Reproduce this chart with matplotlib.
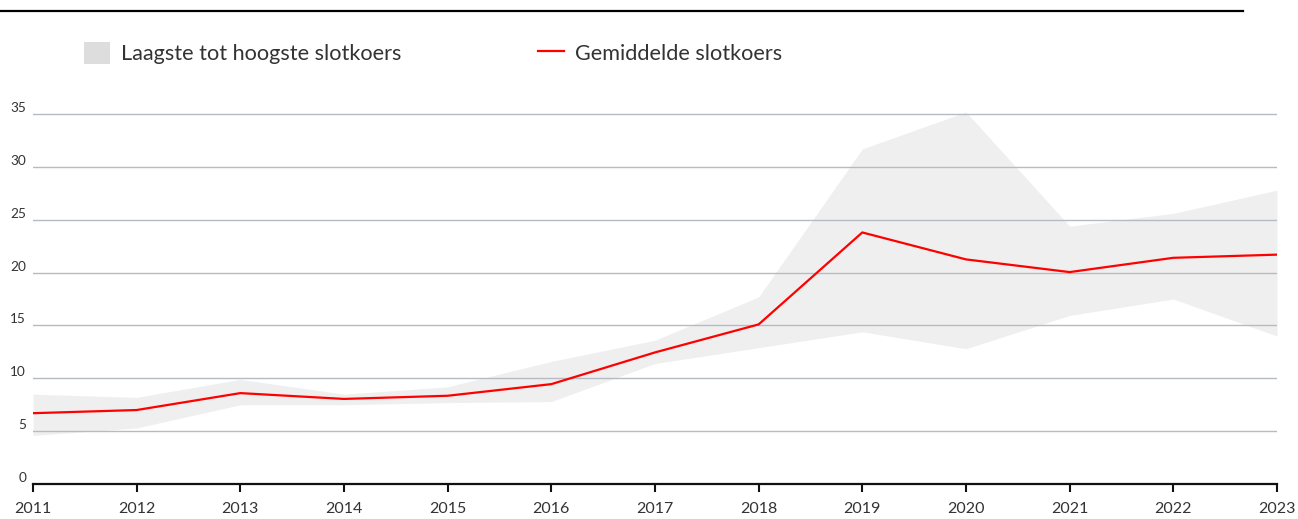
import matplotlib.pyplot as plt
from matplotlib.patches import Patch
from matplotlib.lines import Line2D

years = [2011, 2012, 2013, 2014, 2015, 2016, 2017, 2018, 2019, 2020, 2021, 2022, 2023]
hoogste = [8.5, 8.2, 9.9, 8.5, 9.2, 11.6, 13.6, 17.7, 31.7, 35.2, 24.4, 25.6, 27.8]
laagste = [4.6, 5.3, 7.5, 7.5, 7.7, 7.8, 11.4, 12.9, 14.4, 12.8, 15.95, 17.5, 14.0]
gemiddeld = [6.7, 7.0, 8.6, 8.05, 8.35, 9.45, 12.45, 15.1, 23.8, 21.25, 20.05, 21.4, 21.7]
yticks = [0, 5, 10, 15, 20, 25, 30, 35]

plt.rcParams['font.family'] = ['Lato', 'DejaVu Sans']
textcol = '#333333'

fig = plt.figure(figsize=(12.98, 5.19), dpi=100)
ax = fig.add_axes([0.0254, 0.0674, 0.9584, 0.7332])

ax.fill_between(years, laagste, hoogste, color='#efefef', linewidth=0, zorder=1)
for y in yticks[1:]:
    ax.axhline(y, color='#b4bcc2', linewidth=1, zorder=2)
ax.plot(years, gemiddeld, color='#ff0000', linewidth=1.6, zorder=3)

ax.set_xlim(years[0], years[-1])
ax.set_ylim(0, 36)
ax.set_xticks(years)
ax.set_xticklabels([str(y) for y in years], fontsize=11.5, color=textcol)
ax.set_yticks(yticks)
ax.set_yticklabels([str(y) for y in yticks], fontsize=9.8, color=textcol)
for lbl in ax.get_yticklabels():
    lbl.set_va('bottom')

ax.tick_params(axis='x', length=6, width=1.5, color='#111111', pad=7)
ax.tick_params(axis='y', length=0, pad=5)
for s in ['top', 'right', 'left']:
    ax.spines[s].set_visible(False)
ax.spines['bottom'].set_linewidth(1.6)
ax.spines['bottom'].set_color('#111111')
ax.spines['bottom'].set_zorder(4)

# top rule
fig.add_artist(Line2D([0, 1243 / 1298], [1 - 11 / 519, 1 - 11 / 519], color='black', linewidth=1.6))

handles = [Patch(facecolor='#dddddd', edgecolor='none'),
           Line2D([0], [0], color='#ff0000', linewidth=1.6)]
labels = ['Laagste tot hoogste slotkoers', 'Gemiddelde slotkoers']
leg = fig.legend(handles, labels, loc='center left', bbox_to_anchor=(84 / 1298, 1 - 53 / 519),
                 ncol=2, frameon=False, handlelength=1.2, handleheight=1.25,
                 handletextpad=0.5, columnspacing=6.3, borderpad=0, borderaxespad=0,
                 prop={'size': 15.6})
for t in leg.get_texts():
    t.set_color(textcol)

fig.savefig('out.png', dpi=100)
